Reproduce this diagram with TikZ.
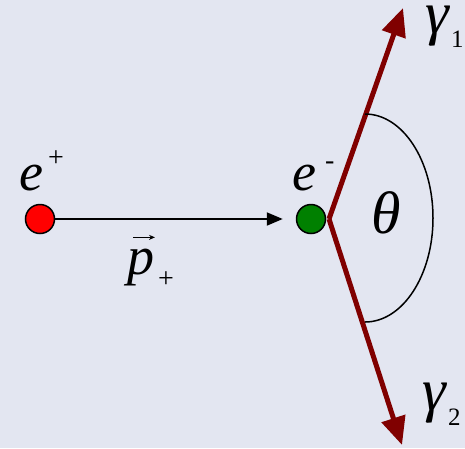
\documentclass[tikz,border=0pt]{standalone}
\usepackage{fontspec}
\setmainfont{Liberation Serif}
\usetikzlibrary{arrows.meta}
\definecolor{bg}{RGB}{227,230,241}
\definecolor{darkred}{RGB}{128,0,0}
\definecolor{dkgreen}{RGB}{0,128,0}
\begin{document}
\begin{tikzpicture}[x=1pt,y=-1pt,
  big/.style={font=\fontsize{54}{60}\selectfont, inner sep=0pt, anchor=base west},
  greek/.style={font=\fontsize{60}{66}\selectfont, inner sep=0pt, anchor=base west},
  ball/.style={circle, draw=black, line width=1.5pt, minimum size=29pt, inner sep=0pt},
  photon/.style={darkred, line width=5pt, -{Triangle[length=28pt,width=24pt]}}]
\fill[bg] (0,0) rectangle (465,448);
\useasboundingbox (0,0) rectangle (465,448);
% particles
\node[ball, fill=red] (pos) at (40,219) {};
\node[ball, fill=dkgreen] (ele) at (311,219) {};
\coordinate (v) at (329,219);
\coordinate (g1) at (403,8);
\coordinate (g2) at (402,445);
% momentum arrow
\draw[line width=2pt, -{Triangle[length=16pt,width=13pt]}, shorten >=13pt] (pos) -- (ele);
% photons
\draw[photon] (v) -- (g1);
\draw[photon] (v) -- (g2);
% angle arc
\draw[line width=1.5pt] (365,114) arc[start angle=-90, end angle=90, x radius=68, y radius=104];
% labels
\node[big] (lpos) at (19,190) {\textit{e}\hspace{5pt}\raisebox{24pt}{\fontsize{28}{28}\selectfont +}};
\node[big] (lele) at (292,190) {\textit{e}\hspace{9pt}\raisebox{21pt}{\fontsize{28}{28}\selectfont -}};
\node[greek] (th) at (371,233) {\textit{θ}};
\node[greek] (lg1) at (425,33) {\textit{γ}\hspace{1pt}\raisebox{-14pt}{\fontsize{25}{25}\selectfont 1}};
\node[greek] (lg2) at (422,410) {\textit{γ}\hspace{1pt}\raisebox{-15pt}{\fontsize{25}{25}\selectfont 2}};
\node[big] (lp) at (127,274) {\textit{p}\hspace{4pt}\raisebox{-13pt}{\fontsize{28}{28}\selectfont +}};
\draw[line width=1.2pt, -{Stealth[length=6pt,width=5pt]}] ([xshift=6pt,yshift=11pt]lp.north west) -- ([xshift=28pt,yshift=11pt]lp.north west);
\end{tikzpicture}
\end{document}
